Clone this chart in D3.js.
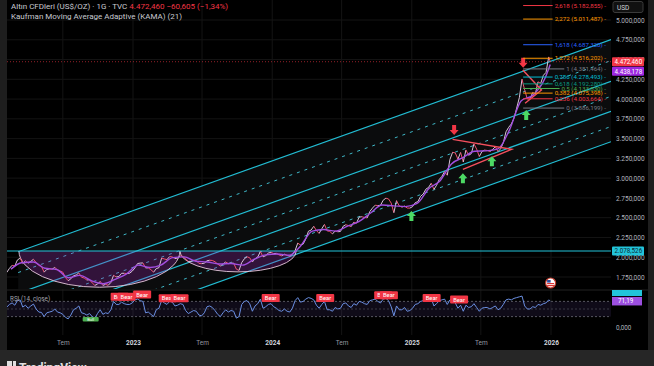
<!DOCTYPE html>
<html>
<head>
<meta charset="utf-8">
<script src="https://cdn.jsdelivr.net/npm/d3@7"></script>
<style>
html, body { margin: 0; padding: 0; background: #1e1e1e; }
svg { display: block; font-family: Roboto, "Open Sans", sans-serif; }
</style>
</head>
<body>
<div id="chart"></div>
<script>
// ---- data ----
// weekly closes (Fridays from 2022-02-04), last point is 2025-12-30
const closes2022 = [1807,1859,1898,1889, 1966,1988,1921,1954, 1925,1947,1974,1932,1896, 1883,1811,1846,1853,
  1850,1871,1839,1826, 1811,1742,1703,1727,1766, 1775,1802,1747,1737, 1712,1716,1675,1644,1660,
  1695,1644,1657,1645, 1681,1771,1751,1755, 1797,1797,1793,1798,1824];
const closes2023 = [1865,1920,1926,1928, 1865,1865,1842,1811, 1856,1868,1989,1978,1969, 2008,2004,1983,1990,
  2017,2011,1977,1946, 1948,1961,1958,1921,1919, 1925,1955,1962,1959, 1943,1914,1889,1915,
  1940,1919,1924,1925,1849, 1833,1932,1981,2006, 1993,1940,1981,2002, 2072,2005,2020,2053,2063];
const closes2024 = [2045,2049,2029,2018, 2039,2024,2013,2036, 2083,2179,2155,2165,2230, 2329,2344,2392,2337,
  2301,2360,2415,2333,2327, 2294,2332,2322,2326, 2392,2411,2400,2387, 2443,2431,2507,2512,2503,
  2497,2578,2622,2658, 2653,2657,2721,2747, 2737,2685,2563,2716,2650, 2633,2648,2622,2621];
const closes2025 = [2640,2690,2703,2770,2800, 2861,2883,2936,2858, 2910,2984,3023,3084, 3037,3237,3327,3319,
  3241,3325,3204,3357,3289, 3310,3433,3368,3274, 3337,3355,3350,3337, 3363,3397,3336,3372,3448,
  3586,3643,3685,3760, 3886,4018,4252,4113,4002, 4000,4084,4065,4218, 4198,4300,4338,4533, 4472.46];

const rsi2022 = [55,62,66,60, 72,74,55,60, 52,58,63,50,42, 41,30,40,42, 44,50,42,40, 36,28,24,34,48,
  52,58,40,38, 34,38,30,26,38, 48,36,40,38, 48,70,62,62, 68,64,62,62,66];
const rsi2023 = [74,76,72,70, 40,42,36,30, 48,52,72,66,62, 70,68,58,60, 64,62,46,38, 42,46,44,34,32,
  40,56,58,54, 46,36,30,40, 48,42,46,44,26, 30,62,70,72, 64,44,58,64, 76,52,56,62,64];
const rsi2024 = [56,52,46,44, 50,44,42,52, 72,80,68,70,76, 80,78,74,60, 52,62,70,48,48, 44,54,50,52,
  64,66,58,54, 64,60,70,68,64, 62,72,74,76, 70,66,76,78, 72,56,32,58,48, 48,54,44,46];
const rsi2025 = [52,62,64,70,72, 76,74,78,58, 64,72,74,76, 62,74,78,66, 52,60,44,60,54, 56,64,54,44,
  52,54,54,50, 54,58,48,52,62, 74,76,74,78, 80,82,84,58,50, 50,56,54,62, 60,64,66,74, 71.19];

const kamaDates = ["2022-02-15","2022-03-15","2022-04-15","2022-05-15","2022-06-15","2022-07-15","2022-08-15","2022-09-15","2022-10-15","2022-11-15","2022-12-15",
  "2023-01-15","2023-02-15","2023-03-15","2023-04-15","2023-05-15","2023-06-15","2023-07-15","2023-08-15","2023-09-15","2023-10-15","2023-11-15","2023-12-15",
  "2024-01-15","2024-02-15","2024-03-15","2024-04-15","2024-05-15","2024-06-15","2024-07-15","2024-08-15","2024-09-15","2024-10-15","2024-11-15","2024-12-15",
  "2025-01-15","2025-02-15","2025-03-15","2025-04-15","2025-05-15","2025-06-15","2025-07-15","2025-08-15","2025-09-15","2025-10-15","2025-11-15","2025-12-15","2025-12-30"];
const kamaValues = [1850,1930,1940,1860,1845,1740,1770,1700,1665,1720,1790,
  1900,1870,1900,1995,2005,1950,1940,1915,1920,1900,1975,2030,
  2040,2025,2140,2330,2350,2330,2390,2450,2560,2660,2650,2640,
  2680,2870,2960,3180,3260,3340,3345,3370,3620,3980,4050,4250,4438.178];

const priceTicks = [1750,2000,2250,2500,2750,3000,3250,3500,3750,4000,4250,4500,4750,5000];
const timeTicks = ["2022-07-01","2023-01-01","2023-07-01","2024-01-01","2024-07-01","2025-01-01","2025-07-01","2026-01-01"];

const lastPrice = 4472.46, lastKama = 4438.178, cupLevel = 2078.526;

// stacked parallel channels: base line through two points, other lines offset in price
const channelBase = [["2022-03-06", 2070], ["2026-06-05", 4747]];
const channelOffsets = [0, -264, -527, -717, -907, -1098, -1290];
const channelDashed = [false, true, false, true, false, true, false];

const cups = [["2022-03-08", "2022-11-03", "2023-05-04", 1620], ["2023-05-04", "2023-10-06", "2024-03-04", 1815]];

const fibStart = "2025-10-20";
const fibRatios = [2.618, 2.272, 1.618, 1.272, 1, 0.786, 0.618, 0.5, 0.382, 0.236, 0];
const fibPrices = [5182.855, 5011.487, 4687.320, 4516.202, 4381.464, 4278.493, 4192.280, 4133.830, 4075.398, 4003.664, 3886.199];

const triangles = [
  [["2025-04-18", 3490], ["2025-09-20", 3365], ["2025-05-15", 3112]],
  [["2025-10-19", 4368], ["2025-12-07", 4115], ["2025-10-25", 3947]]
];
const downArrows = [["2025-04-22", 3610], ["2025-10-20", 4460]];
const upArrows = [["2024-12-31", 2520], ["2025-05-15", 3000], ["2025-07-30", 3215], ["2025-10-28", 3800]];

const bearDates = ["2022-11-27","2022-12-15","2023-01-25","2023-04-02","2023-05-03","2023-12-28","2024-05-19","2024-10-18","2024-11-02","2025-02-22","2025-05-05"];
const bearLevels = [82, 82, 88, 78, 78, 79, 79, 86, 86, 79, 75];
const bullDates = ["2022-09-12"], bullLevels = [24];

// ---- setup ----
const parse = d3.timeParse("%Y-%m-%d");
const locale = d3.formatLocale({decimal: ",", thousands: ".", grouping: [3], currency: ["", ""]});
const fmt = locale.format(",.3f");
const fmt2 = locale.format(",.2f");

const W = 654, H = 366;
const left = 7, plotRight = 611, paneBottom = 289, rsiBottom = 335, chartBottom = 350;

const x = d3.scaleTime().domain([new Date(2023, 0, 1), new Date(2026, 0, 1)]).range([133, 551]);
const y = d3.scaleLinear().domain([1750, 5000]).range([277, 20]);
const yr = d3.scaleLinear().domain([0, 100]).range([328, 290]);

const weekDates = d3.timeFriday.range(new Date(2022, 1, 4), new Date(2025, 11, 27));
weekDates.push(new Date(2025, 11, 30));
const closes = closes2022.concat(closes2023, closes2024, closes2025);
const rsi = rsi2022.concat(rsi2023, rsi2024, rsi2025);
const n = Math.min(weekDates.length, closes.length);
const series = d3.range(n).map(i => ({date: weekDates[i], close: closes[i], rsi: rsi[i]}));
const kama = kamaDates.map((d, i) => ({date: parse(d), value: kamaValues[i]}));

const svg = d3.select("#chart").append("svg").attr("width", W).attr("height", H);

svg.append("rect").attr("width", W).attr("height", H).attr("fill", "#1e1e1e");
svg.append("rect").attr("x", left).attr("y", 0).attr("width", 641).attr("height", chartBottom).attr("fill", "#000");

const defs = svg.append("defs");
defs.append("clipPath").attr("id", "pane").append("rect")
  .attr("x", left).attr("y", 0).attr("width", plotRight - left).attr("height", paneBottom);
defs.append("clipPath").attr("id", "rsipane").append("rect")
  .attr("x", left).attr("y", paneBottom).attr("width", plotRight - left).attr("height", rsiBottom - paneBottom);

// grid
svg.append("g").selectAll("line").data(timeTicks).join("line")
  .attr("x1", d => x(parse(d))).attr("x2", d => x(parse(d)))
  .attr("y1", 0).attr("y2", rsiBottom).attr("stroke", "#141414");
svg.append("g").selectAll("line").data(priceTicks).join("line")
  .attr("x1", left).attr("x2", plotRight).attr("y1", d => y(d)).attr("y2", d => y(d)).attr("stroke", "#141414");

const pane = svg.append("g").attr("clip-path", "url(#pane)");

// channel
const t0 = parse(channelBase[0][0]), t1 = parse(channelBase[1][0]);
const slope = (channelBase[1][1] - channelBase[0][1]) / (t1 - t0);
const tR = x.invert(plotRight);
const chanPrice = (t, off) => channelBase[0][1] + off + slope * (t - t0);
pane.append("path")
  .attr("d", `M${x(t0)},${y(chanPrice(t0, 0))} L${x(tR)},${y(chanPrice(tR, 0))} L${x(tR)},${y(chanPrice(tR, d3.min(channelOffsets)))} L${x(t0)},${y(chanPrice(t0, d3.min(channelOffsets)))}Z`)
  .attr("fill", "#0b0c0d");
pane.append("g").selectAll("line").data(channelOffsets).join("line")
  .attr("x1", x(t0)).attr("x2", x(tR))
  .attr("y1", d => y(chanPrice(t0, d))).attr("y2", d => y(chanPrice(tR, d)))
  .attr("stroke", (d, i) => channelDashed[i] ? "#3fb8c8" : "#22bcd2")
  .attr("stroke-width", (d, i) => channelDashed[i] ? 1 : 1.2)
  .attr("stroke-dasharray", (d, i) => channelDashed[i] ? "3,5" : null);

// cups
cups.forEach(c => {
  const xa = x(parse(c[0])), xb = x(parse(c[2])), y0 = y(cupLevel), yb = y(c[3]);
  const rx = (xb - xa) / 2, ry = yb - y0;
  const arc = `M${xa},${y0} A${rx},${ry} 0 0 0 ${xb},${y0}`;
  pane.append("path").attr("d", arc + "Z").attr("fill", "rgba(156,39,176,0.28)");
  pane.append("path").attr("d", arc).attr("fill", "none").attr("stroke", "#e6c9dc").attr("stroke-width", 0.9);
});

pane.append("line").attr("x1", left).attr("x2", plotRight)
  .attr("y1", y(cupLevel)).attr("y2", y(cupLevel)).attr("stroke", "#22c4da").attr("stroke-width", 1.2);

pane.append("line").attr("x1", left).attr("x2", plotRight)
  .attr("y1", y(lastPrice)).attr("y2", y(lastPrice))
  .attr("stroke", "#f23645").attr("stroke-opacity", 0.6).attr("stroke-dasharray", "1,2");

// price
pane.append("g").selectAll("line").data(series.slice(1)).join("line")
  .attr("x1", (d, i) => x(series[i].date)).attr("y1", (d, i) => y(series[i].close))
  .attr("x2", d => x(d.date)).attr("y2", d => y(d.close))
  .attr("stroke", (d, i) => d.close >= series[i].close ? "#d9c2d9" : "#f0506e")
  .attr("stroke-width", 1);

// KAMA
pane.append("path").datum(kama)
  .attr("fill", "none").attr("stroke", "#a24ee0").attr("stroke-width", 1.4)
  .attr("d", d3.line().x(d => x(d.date)).y(d => y(d.value)).curve(d3.curveMonotoneX));

// triangles
triangles.forEach(tri => {
  pane.append("path").datum(tri).attr("fill", "none").attr("stroke", "#f4505e").attr("stroke-width", 1.4)
    .attr("d", d3.line().x(d => x(parse(d[0]))).y(d => y(d[1])));
});

// arrows
const arrowPath = "M-2,-5 H2 V0 H4.5 L0,5 L-4.5,0 H-2 Z";
pane.append("g").selectAll("path").data(downArrows).join("path")
  .attr("transform", d => `translate(${x(parse(d[0]))},${y(d[1])})`)
  .attr("d", arrowPath).attr("fill", "#f23645");
pane.append("g").selectAll("path").data(upArrows).join("path")
  .attr("transform", d => `translate(${x(parse(d[0]))},${y(d[1])}) rotate(180)`)
  .attr("d", arrowPath).attr("fill", "#4cd964");

// fib levels
const fibColors = ["#f23645", "#ff9800", "#2962ff", "#ff9800", "#787b86", "#00bcd4", "#089981", "#4caf50", "#ff9800", "#f23645", "#787b86"];
const fibG = svg.append("g");
fibRatios.forEach((r, i) => {
  const yy = y(fibPrices[i]);
  const label = fibG.append("text").attr("x", 606).attr("y", yy + 2.2).attr("text-anchor", "end")
    .attr("font-size", 6.2).attr("fill", fibColors[i])
    .text(`${String(r).replace(".", ",")} (${fmt(fibPrices[i])}) -`);
  const w = label.node().getComputedTextLength();
  fibG.insert("line", "text").attr("x1", x(parse(fibStart))).attr("x2", 606 - w - 2)
    .attr("y1", yy).attr("y2", yy).attr("stroke", fibColors[i]).attr("stroke-width", 1);
});

// header
const head = svg.append("text").attr("x", 11).attr("y", 9).attr("font-size", 8).attr("fill", "#c9cbd2");
head.append("tspan").text("Altın CFDleri (US$/OZ) · 1G · TVC ");
head.append("tspan").attr("fill", "#f23645").text(`${fmt(lastPrice)} −60,605 (−1,34%)`);
svg.append("text").attr("x", 11).attr("y", 18.5).attr("font-size", 8).attr("fill", "#c9cbd2")
  .text("Kaufman Moving Average Adaptive (KAMA) (21)");

// price axis
const pAxis = svg.append("g").attr("transform", `translate(${plotRight + 3},0)`)
  .call(d3.axisRight(y).tickValues(priceTicks).tickFormat(fmt).tickSize(0).tickPadding(2));
pAxis.select(".domain").remove();
pAxis.selectAll("text").attr("fill", "#b2b5be").attr("font-size", 6.5).attr("font-family", "Roboto, sans-serif");

svg.append("rect").attr("x", 613).attr("y", 1.5).attr("width", 30).attr("height", 11).attr("rx", 2)
  .attr("fill", "#111").attr("stroke", "#3a3a3a");
svg.append("text").attr("x", 617).attr("y", 9.5).attr("font-size", 6.5).attr("fill", "#d1d4dc").text("USD");

function tag(yy, bg, fg, txt) {
  svg.append("rect").attr("x", 612).attr("y", yy - 4.5).attr("width", 32).attr("height", 9).attr("rx", 1).attr("fill", bg);
  svg.append("text").attr("x", 614.5).attr("y", yy + 2.3).attr("font-size", 6.3).attr("fill", fg).text(txt);
}
tag(y(lastPrice), "#f23645", "#fff", fmt(lastPrice));
tag(y(lastPrice) + 9.5, "#9c27e0", "#fff", fmt(lastKama));
tag(y(cupLevel), "#22c4da", "#0b2a30", fmt(cupLevel));

// ---- RSI pane ----
svg.append("line").attr("x1", left).attr("x2", 648).attr("y1", paneBottom + 1).attr("y2", paneBottom + 1).attr("stroke", "#222");
const rp = svg.append("g").attr("clip-path", "url(#rsipane)");
rp.append("rect").attr("x", left).attr("width", plotRight - left)
  .attr("y", yr(70)).attr("height", yr(30) - yr(70)).attr("fill", "rgba(126,87,194,0.12)");
rp.append("g").selectAll("line").data([70, 50, 30]).join("line")
  .attr("x1", left).attr("x2", plotRight).attr("y1", d => yr(d)).attr("y2", d => yr(d))
  .attr("stroke", d => d === 50 ? "#3a3a44" : "#55555f").attr("stroke-dasharray", "2,2");
rp.append("path").datum(series)
  .attr("fill", "none").attr("stroke", "#6a8fe2").attr("stroke-width", 1)
  .attr("d", d3.line().x(d => x(d.date)).y(d => yr(d.rsi)));

svg.append("text").attr("x", 10).attr("y", 301).attr("font-size", 6.3).attr("fill", "#a0a3ad").text("RSI (14, close)");

const bears = svg.append("g").selectAll("g").data(bearDates).join("g")
  .attr("transform", (d, i) => `translate(${x(parse(d))},${yr(bearLevels[i])})`);
bears.append("rect").attr("x", -9).attr("y", -4).attr("width", 18).attr("height", 8).attr("rx", 1).attr("fill", "#f23645");
bears.append("text").attr("text-anchor", "middle").attr("y", 2).attr("font-size", 5.8).attr("fill", "#fff").text("Bear");

const bulls = svg.append("g").selectAll("g").data(bullDates).join("g")
  .attr("transform", (d, i) => `translate(${x(parse(d))},${yr(bullLevels[i])})`);
bulls.append("rect").attr("x", -8).attr("y", -2).attr("width", 16).attr("height", 4.5).attr("rx", 1).attr("fill", "#4caf50");
bulls.append("text").attr("text-anchor", "middle").attr("y", 1.8).attr("font-size", 4).attr("fill", "#fff").text("Bull");

// rsi axis tags
svg.append("rect").attr("x", 612).attr("y", paneBottom + 1).attr("width", 30).attr("height", 6).attr("fill", "#22c4da");
svg.append("rect").attr("x", 612).attr("y", yr(71.19) - 4).attr("width", 30).attr("height", 8.5).attr("fill", "#9c4fe0");
svg.append("text").attr("x", 618).attr("y", yr(71.19) + 2.4).attr("font-size", 6.3).attr("fill", "#fff").text(fmt2(71.19));
svg.append("text").attr("x", 616).attr("y", yr(0) + 2.3).attr("font-size", 6.3).attr("fill", "#b2b5be").text(fmt(0));

// US flag event marker
const flag = svg.append("g").attr("transform", `translate(${x(parse("2025-12-31"))},283)`);
flag.append("circle").attr("r", 5).attr("fill", "#fff").attr("stroke", "#c0392b").attr("stroke-width", 1.2);
flag.append("rect").attr("x", -3.5).attr("y", 0).attr("width", 7).attr("height", 1.2).attr("fill", "#d33");
flag.append("rect").attr("x", -3.5).attr("y", 2).attr("width", 7).attr("height", 1.2).attr("fill", "#d33");
flag.append("rect").attr("x", -3.5).attr("y", -3).attr("width", 3.5).attr("height", 2.6).attr("fill", "#2b4aa0");

// time axis
const tAxis = svg.append("g").attr("transform", `translate(0,${rsiBottom + 5})`)
  .call(d3.axisBottom(x).tickValues(timeTicks.map(parse)).tickSize(0).tickPadding(0)
    .tickFormat(d => d.getMonth() === 0 ? d.getFullYear() : "Tem"));
tAxis.select(".domain").remove();
tAxis.selectAll("text").attr("font-size", 6.5).attr("font-family", "Roboto, sans-serif")
  .attr("fill", d => d.getMonth() === 0 ? "#d1d4dc" : "#9598a1")
  .attr("font-weight", d => d.getMonth() === 0 ? "bold" : "normal");

// bottom bar with the cut-off logo
svg.append("rect").attr("x", 0).attr("y", chartBottom).attr("width", W).attr("height", H - chartBottom).attr("fill", "#262626");
svg.append("rect").attr("x", 7).attr("y", 361).attr("width", 5).attr("height", 8).attr("fill", "#e0e0e0");
svg.append("rect").attr("x", 13).attr("y", 361).attr("width", 3).attr("height", 8).attr("fill", "#e0e0e0");
svg.append("text").attr("x", 19).attr("y", 372).attr("font-size", 12).attr("font-weight", "bold")
  .attr("fill", "#e0e0e0").text("TradingView");
</script>
</body>
</html>
